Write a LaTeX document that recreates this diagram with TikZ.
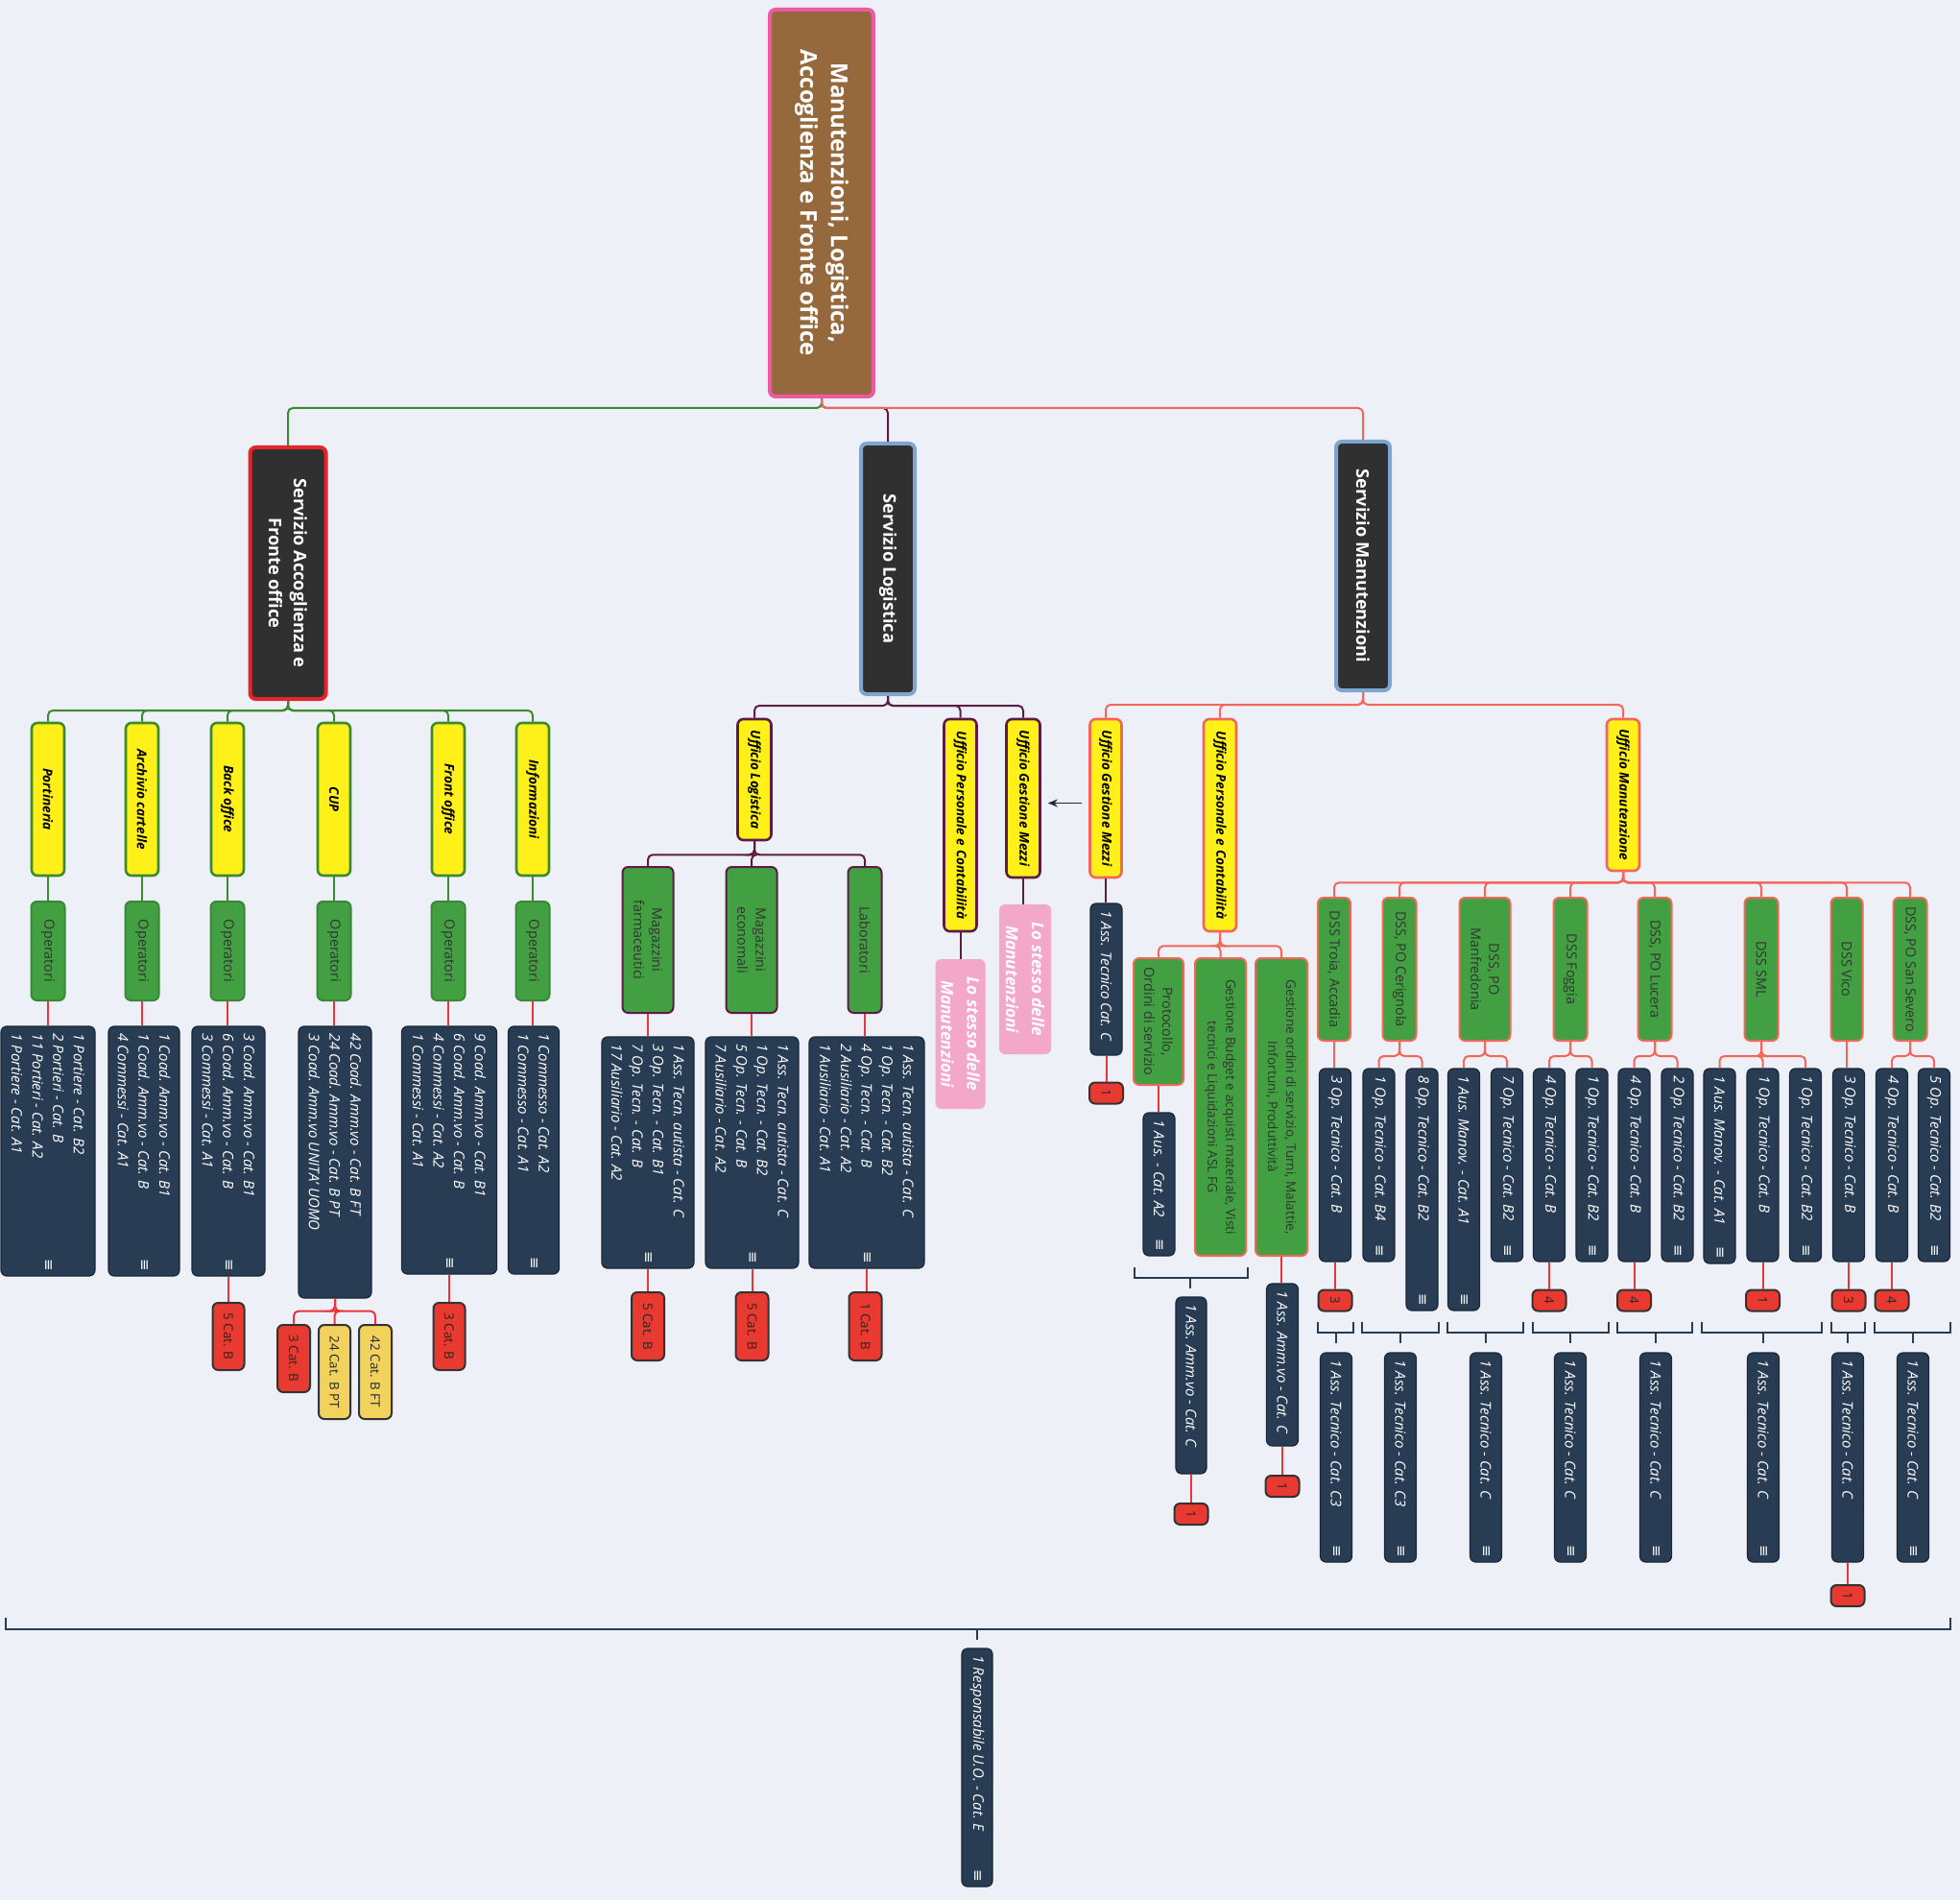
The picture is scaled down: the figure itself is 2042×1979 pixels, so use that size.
\documentclass[tikz,border=0pt]{standalone}
\usepackage{fontspec}
\setmainfont{Open Sans}
\newfontfamily\symf{DejaVu Sans}
\usetikzlibrary{calc,arrows.meta}
\definecolor{bg}{HTML}{EEF0F7}
\definecolor{navy}{HTML}{283C54}
\definecolor{navyd}{HTML}{1A2838}
\definecolor{dgray}{HTML}{303030}
\definecolor{brownr}{HTML}{96693C}
\definecolor{pinkb}{HTML}{EC5AA6}
\definecolor{ylw}{HTML}{FFF01A}
\definecolor{grn}{HTML}{42A042}
\definecolor{grnb}{HTML}{3B8A2E}
\definecolor{purp}{HTML}{5C1D45}
\definecolor{salm}{HTML}{F2675A}
\definecolor{redl}{HTML}{E8363C}
\definecolor{redbx}{HTML}{E83A30}
\definecolor{orbx}{HTML}{F2D25C}
\definecolor{pinkbx}{HTML}{F3A8CA}
\definecolor{steel}{HTML}{7DA5CF}
\definecolor{redsv}{HTML}{E2262B}
\newcommand\bx[8][]{\node[#3, minimum width={(#7)*0.5pt}, minimum height={(#6)*0.5pt}, #1] (#2) at (#4,#5) {#8};}
\newcommand\db[6]{\node[dbox, minimum width={(#5)*0.5pt}, minimum height={(#4)*0.5pt}] (#1) at (#2,#3) {};
  \node[dtxt, anchor=west] (#1t) at ($(#1.west)+(0,8)$) {#6};}
\newcommand\ic[1]{\node[icon] (#1i) at ($(#1.east)+(0,-12)$) {≡};}
\newcommand\rn[4]{\bx{#1}{rb}{#2}{#3}{35}{22}{#4}}
\newcommand\fk[4]{\draw[#1] (#2.east) -- ++(0,#4) -| (#3.west);}
\newcommand\st[3]{\draw[#1] (#2.east) -- (#2.east |- #3.west);}
\newcommand\brk[6]{\coordinate (#1l) at (#2,#5); \coordinate (#1r) at (#3,#5); \coordinate (#1c) at (#4,#6);
  \draw[brk] (#1l) |- (#1c) -| (#1r); \draw[brk] (#1c) -- ++(0,11);}
\begin{document}
\begin{tikzpicture}[x=0.5pt,y=-0.5pt,
  bx/.style={rotate=-90, rounded corners=3pt, inner sep=2pt, align=center, draw},
  rootbox/.style={bx, fill=brownr, draw=pinkb, line width=2pt, text=white, font=\bfseries\fontsize{12}{16}\selectfont},
  svc/.style={bx, fill=dgray, line width=2pt, text=white, font=\bfseries\fontsize{9.1}{13}\selectfont},
  yb/.style={bx, fill=ylw, line width=1.3pt, text=black, inner sep=1pt, font=\bfseries\itshape\fontsize{6.8}{8}\selectfont},
  gb/.style={bx, fill=grn, line width=1pt, text=black!80, font=\fontsize{7.2}{9.5}\selectfont},
  gs/.style={gb, font=\fontsize{6.8}{9.5}\selectfont},
  ob/.style={bx, fill=orbx, draw=black!80, line width=1pt, text=black!85, font=\fontsize{6.7}{8}\selectfont},
  rb/.style={ob, fill=redbx},
  pb/.style={bx, draw=none, fill=pinkbx, text=white, inner sep=0.5pt, font=\bfseries\itshape\fontsize{8.6}{13.5}\selectfont},
  dbox/.style={bx, fill=navy, draw=navyd, line width=0.6pt},
  dtxt/.style={rotate=-90, inner sep=0pt, align=left, text=white, font=\itshape\fontsize{7.5}{10.8}\selectfont},
  icon/.style={rotate=-90, inner sep=0pt, text=white, font=\symf\fontsize{7.5}{7.5}\selectfont},
  conn/.style={line width=1pt, rounded corners=2.5pt},
  cgr/.style={conn, draw=grnb}, cpu/.style={conn, draw=purp},
  csa/.style={conn, draw=salm}, cre/.style={conn, draw=redl},
  brk/.style={draw=navy, line width=1.2pt}]
\fill[bg] (0,0) rectangle (2042,1979);
\useasboundingbox (0,0) rectangle (2042,1979);
% root and services
\bx{root}{rootbox}{856}{211.5}{108}{403}{Manutenzioni, Logistica,\\Accoglienza e Fronte office}
\bx[draw=redsv]{serA}{svc}{300}{597}{79}{262}{Servizio Accoglienza e\\Fronte office}
\bx[draw=steel]{serL}{svc}{925}{592.5}{56}{261}{Servizio Logistica}
\bx[draw=steel]{serM}{svc}{1420}{589.5}{56}{259}{Servizio Manutenzioni}
\fk{cgr}{root}{serA}{10}
\fk{cpu}{root}{serL}{10}
\fk{csa}{root}{serM}{10}
% ---------- Accoglienza
\bx{yP}{yb,draw=grnb}{50}{832.5}{34}{159}{Portineria}
\bx{yA}{yb,draw=grnb}{148}{832.5}{34}{159}{Archivio cartelle}
\bx{yB}{yb,draw=grnb}{237}{832.5}{34}{159}{Back office}
\bx{yC}{yb,draw=grnb}{348}{832.5}{34}{159}{CUP}
\bx{yF}{yb,draw=grnb}{467}{832.5}{34}{159}{Front office}
\bx{yI}{yb,draw=grnb}{555}{832.5}{34}{159}{Informazioni}
\foreach \n in {P,A,B,C,F,I}{\fk{cgr}{serA}{y\n}{10}}
\bx{oP}{gb,draw=grn!85!black}{50}{990.5}{35}{103}{Operatori}
\bx{oA}{gb,draw=grn!85!black}{148}{990.5}{35}{103}{Operatori}
\bx{oB}{gb,draw=grn!85!black}{237}{990.5}{35}{103}{Operatori}
\bx{oC}{gb,draw=grn!85!black}{348}{990.5}{35}{103}{Operatori}
\bx{oF}{gb,draw=grn!85!black}{467}{990.5}{35}{103}{Operatori}
\bx{oI}{gb,draw=grn!85!black}{555}{990.5}{35}{103}{Operatori}
\db{dP}{50}{1199}{98}{260}{1 Portiere - Cat. B2\\2 Portieri - Cat. B\\11 Portieri - Cat. A2\\1 Portiere - Cat. A1}\ic{dP}
\db{dA}{150}{1199}{74}{260}{1 Coad. Amm.vo - Cat. B1\\1 Coad. Amm.vo - Cat. B\\4 Commessi - Cat. A1}\ic{dA}
\db{dB}{238}{1199}{76}{260}{3 Coad. Amm.vo - Cat. B1\\6 Coad. Amm.vo - Cat. B\\3 Commessi - Cat. A1}\ic{dB}
\db{dC}{349}{1210.5}{76}{283}{42 Coad. Amm.vo - Cat. B FT\\24 Coad. Amm.vo - Cat. B PT\\3 Coad. Amm.vo UNITA' UOMO}
\db{dF}{468}{1198}{99}{258}{9 Coad. Amm.vo - Cat. B1\\6 Coad. Amm.vo - Cat. B\\4 Commessi - Cat. A2\\1 Commessi - Cat. A1}\ic{dF}
\db{dI}{556}{1198}{53}{258}{1 Commesso - Cat. A2\\1 Commesso - Cat. A1}\ic{dI}
\foreach \n in {P,A,B,C,F,I}{\st{cgr}{y\n}{o\n}\st{cre}{o\n}{d\n}}
\bx{rB}{rb}{238}{1392}{33}{70}{5 Cat. B}
\bx{rF}{rb}{468}{1392}{33}{70}{3 Cat. B}
\bx{rC1}{rb}{306}{1415}{34}{70}{3 Cat. B}
\bx{rC2}{ob}{348.5}{1429}{33}{98}{24 Cat. B PT}
\bx{rC3}{ob}{391}{1429}{34}{98}{42 Cat. B FT}
\st{cre}{dB}{rB}\st{cre}{dF}{rF}
\fk{cre}{dC}{rC1}{13}\fk{cre}{dC}{rC2}{13}\fk{cre}{dC}{rC3}{13}
% ---------- Logistica
\bx{yL}{yb,draw=purp}{786}{812}{35}{126}{Ufficio Logistica}
\bx{yLP}{yb,draw=purp}{1000.5}{859.5}{34}{221}{Ufficio Personale e Contabilità}
\bx{yLM}{yb,draw=purp}{1066}{831.5}{35}{165}{Ufficio Gestione Mezzi}
\fk{cpu}{serL}{yL}{10}\fk{cpu}{serL}{yLP}{10}\fk{cpu}{serL}{yLM}{10}
\bx{pL1}{pb}{1000.5}{1077}{52}{156}{Lo stesso delle\\Manutenzioni}
\bx{pL2}{pb}{1068}{1020}{54}{156}{Lo stesso delle\\Manutenzioni}
\st{cpu}{yLP}{pL1}\st{cpu}{yLM}{pL2}
\bx{gFa}{gb,draw=purp}{675}{979}{53}{152}{Magazzini\\farmaceutici}
\bx{gEc}{gb,draw=purp}{783}{979}{53}{152}{Magazzini\\economali}
\bx{gLa}{gb,draw=purp}{901}{979}{35}{152}{Laboratori}
\fk{cpu}{yL}{gFa}{14}\fk{cpu}{yL}{gEc}{14}\fk{cpu}{yL}{gLa}{14}
\db{dFa}{675}{1200.5}{96}{241}{1 Ass. Tecn. autista - Cat. C\\3 Op. Tecn. - Cat. B1\\7 Op. Tecn. - Cat. B\\17 Ausiliario - Cat. A2}\ic{dFa}
\db{dEc}{783.5}{1200.5}{97}{241}{1 Ass. Tecn. autista - Cat. C\\1 Op. Tecn. - Cat. B2\\5 Op. Tecn. - Cat. B\\7 Ausiliario - Cat. A2}\ic{dEc}
\db{dLa}{903}{1200.5}{120}{241}{1 Ass. Tecn. autista - Cat. C\\1 Op. Tecn. - Cat. B2\\4 Op. Tecn. - Cat. B\\2 Ausiliario - Cat. A2\\1 Ausiliario - Cat. A1}\ic{dLa}
\bx{rFa}{rb}{675}{1381.5}{34}{71}{5 Cat. B}
\bx{rEc}{rb}{783.5}{1381.5}{34}{71}{5 Cat. B}
\bx{rLa}{rb}{901.5}{1381.5}{34}{71}{1 Cat. B}
\foreach \n in {Fa,Ec,La}{\st{cre}{g\n}{d\n}\st{cre}{d\n}{r\n}}
% ---------- Manutenzioni
\bx{yMM}{yb,draw=salm}{1152}{831.5}{33}{165}{Ufficio Gestione Mezzi}
\bx{yMP}{yb,draw=salm}{1271}{859.5}{34}{221}{Ufficio Personale e Contabilità}
\bx{yMU}{yb,draw=salm}{1691}{828}{34}{158}{Ufficio Manutenzione}
\fk{csa}{serM}{yMM}{13}\fk{csa}{serM}{yMP}{13}\fk{csa}{serM}{yMU}{13}
\coordinate (arA) at ($(yMM.south)+(-7,5)$);
\coordinate (arB) at ($(yLM.north)+(7,5)$);
\draw[-{Stealth[length=5pt,width=4pt]}, line width=0.9pt, navyd] (arA) -- (arB);
\db{dMz}{1152.5}{1020}{33}{158}{1 Ass. Tecnico Cat. C}
\rn{rMz}{1152.5}{1138.5}{1}
\st{cpu}{yMM}{dMz}\st{cre}{dMz}{rMz}
\bx{gPr}{gb,draw=salm}{1207}{1064}{52}{132}{Protocollo,\\Ordini di servizio}
\bx{gBu}{gs,draw=salm}{1271.5}{1153}{53}{310}{Gestione Budget e acquisti materiale, Visti\\tecnici e Liquidazioni ASL FG}
\bx{gTu}{gs,draw=salm}{1335}{1153}{54}{310}{Gestione ordini di servizio, Turni, Malattie,\\Infortuni, Produttività}
\fk{csa}{yMP}{gPr}{14}\fk{csa}{yMP}{gBu}{14}\fk{csa}{yMP}{gTu}{14}
\db{dAu}{1207.5}{1233.5}{33}{149}{1 Aus. - Cat. A2}\ic{dAu}
\st{cre}{gPr}{dAu}
\db{dAm2}{1336}{1421.5}{33}{169}{1 Ass. Amm.vo - Cat. C}
\rn{rAm2}{1336}{1548}{1}
\st{cre}{gTu}{dAm2}\st{cre}{dAm2}{rAm2}
\brk{bPe}{1182}{1300}{1240}{1320}{1331}
\db{dAm1}{1241}{1443}{32}{184}{1 Ass. Amm.vo - Cat. C}
\rn{rAm1}{1241}{1577}{1}
\st{cre}{dAm1}{rAm1}
% DSS
\bx{gTr}{gb,draw=salm}{1390}{1009.5}{34}{149}{DSS Troia, Accadia}
\bx{gCe}{gb,draw=salm}{1458}{1009.5}{35}{149}{DSS, PO Cerignola}
\bx{gMa}{gb,draw=salm}{1547}{1009.5}{53}{149}{DSS, PO\\Manfredonia}
\bx{gFo}{gb,draw=salm}{1636}{1009.5}{35}{149}{DSS Foggia}
\bx{gLu}{gb,draw=salm}{1724}{1009.5}{35}{149}{DSS, PO Lucera}
\bx{gSm}{gb,draw=salm}{1835}{1009.5}{35}{149}{DSS SML}
\bx{gVi}{gb,draw=salm}{1924}{1009.5}{33}{149}{DSS Vico}
\bx{gSs}{gb,draw=salm}{1990}{1009.5}{35}{149}{DSS, PO San Severo}
\foreach \n in {Tr,Ce,Ma,Fo,Lu,Sm,Vi,Ss}{\fk{csa}{yMU}{g\n}{11}}
\db{dTr}{1391}{1213.5}{33}{201}{3 Op. Tecnico - Cat. B}
\db{dCeA}{1436.5}{1213.5}{33}{201}{1 Op. Tecnico - Cat. B4}\ic{dCeA}
\db{dCeB}{1481.5}{1239}{33}{252}{8 Op. Tecnico - Cat. B2}\ic{dCeB}
\db{dMaA}{1525}{1239}{33}{252}{1 Aus. Manov. - Cat. A1}\ic{dMaA}
\db{dMaB}{1570}{1213.5}{33}{201}{7 Op. Tecnico - Cat. B2}\ic{dMaB}
\db{dFoA}{1614}{1213.5}{33}{201}{4 Op. Tecnico - Cat. B}
\db{dFoB}{1658.5}{1213.5}{33}{201}{1 Op. Tecnico - Cat. B2}\ic{dFoB}
\db{dLuA}{1702.5}{1213.5}{33}{201}{4 Op. Tecnico - Cat. B}
\db{dLuB}{1747.5}{1213.5}{33}{201}{2 Op. Tecnico - Cat. B2}\ic{dLuB}
\db{dSmA}{1791.5}{1214.5}{33}{203}{1 Aus. Manov. - Cat. A1}\ic{dSmA}
\db{dSmB}{1836.5}{1213.5}{33}{201}{1 Op. Tecnico - Cat. B}
\db{dSmC}{1881}{1213.5}{33}{201}{1 Op. Tecnico - Cat. B2}\ic{dSmC}
\db{dVi}{1926}{1213.5}{33}{201}{3 Op. Tecnico - Cat. B}
\db{dSsA}{1971}{1213.5}{33}{201}{4 Op. Tecnico - Cat. B}
\db{dSsB}{2015}{1213.5}{33}{201}{5 Op. Tecnico - Cat. B2}\ic{dSsB}
\st{csa}{gTr}{dTr}\st{csa}{gVi}{dVi}
\fk{csa}{gCe}{dCeA}{15}\fk{csa}{gCe}{dCeB}{15}
\fk{csa}{gMa}{dMaA}{15}\fk{csa}{gMa}{dMaB}{15}
\fk{csa}{gFo}{dFoA}{15}\fk{csa}{gFo}{dFoB}{15}
\fk{csa}{gLu}{dLuA}{15}\fk{csa}{gLu}{dLuB}{15}
\fk{csa}{gSm}{dSmA}{15}\fk{csa}{gSm}{dSmB}{15}\fk{csa}{gSm}{dSmC}{15}
\fk{csa}{gSs}{dSsA}{15}\fk{csa}{gSs}{dSsB}{15}
\rn{rTr}{1391}{1354.5}{3}
\rn{rFo}{1614}{1354.5}{4}
\rn{rLu}{1702.5}{1354.5}{4}
\rn{rSm}{1836.5}{1354.5}{1}
\rn{rVi}{1926}{1354.5}{3}
\rn{rSs}{1971}{1354.5}{4}
\st{cre}{dTr}{rTr}\st{cre}{dFoA}{rFo}\st{cre}{dLuA}{rLu}
\st{cre}{dSmB}{rSm}\st{cre}{dVi}{rVi}\st{cre}{dSsA}{rSs}
\brk{bTr}{1373}{1410}{1392}{1377}{1388}
\brk{bCe}{1419}{1499}{1459}{1377}{1388}
\brk{bMa}{1508}{1587}{1548}{1377}{1388}
\brk{bFo}{1597}{1676}{1636}{1377}{1388}
\brk{bLu}{1685}{1763}{1725}{1377}{1388}
\brk{bSm}{1773}{1898}{1837}{1377}{1388}
\brk{bVi}{1908}{1943}{1925}{1377}{1388}
\brk{bSs}{1953}{2032}{1993}{1377}{1388}
\db{aTr}{1392}{1518}{33}{218}{1 Ass. Tecnico - Cat. C3}\ic{aTr}
\db{aCe}{1459}{1518}{33}{218}{1 Ass. Tecnico - Cat. C3}\ic{aCe}
\db{aMa}{1548}{1518}{33}{218}{1 Ass. Tecnico - Cat. C}\ic{aMa}
\db{aFo}{1636}{1518}{33}{218}{1 Ass. Tecnico - Cat. C}\ic{aFo}
\db{aLu}{1725}{1518}{33}{218}{1 Ass. Tecnico - Cat. C}\ic{aLu}
\db{aSm}{1837}{1518}{33}{218}{1 Ass. Tecnico - Cat. C}\ic{aSm}
\db{aVi}{1925}{1518}{33}{218}{1 Ass. Tecnico - Cat. C}
\db{aSs}{1993}{1518}{33}{218}{1 Ass. Tecnico - Cat. C}\ic{aSs}
\rn{rVi2}{1925}{1662}{1}
\st{cre}{aVi}{rVi2}
% ---------- bottom
\brk{bAll}{6}{2032}{1018}{1685}{1697}
\db{dRe}{1018}{1841}{32}{248}{1 Responsabile U.O. - Cat. E}\ic{dRe}
\end{tikzpicture}
\end{document}
